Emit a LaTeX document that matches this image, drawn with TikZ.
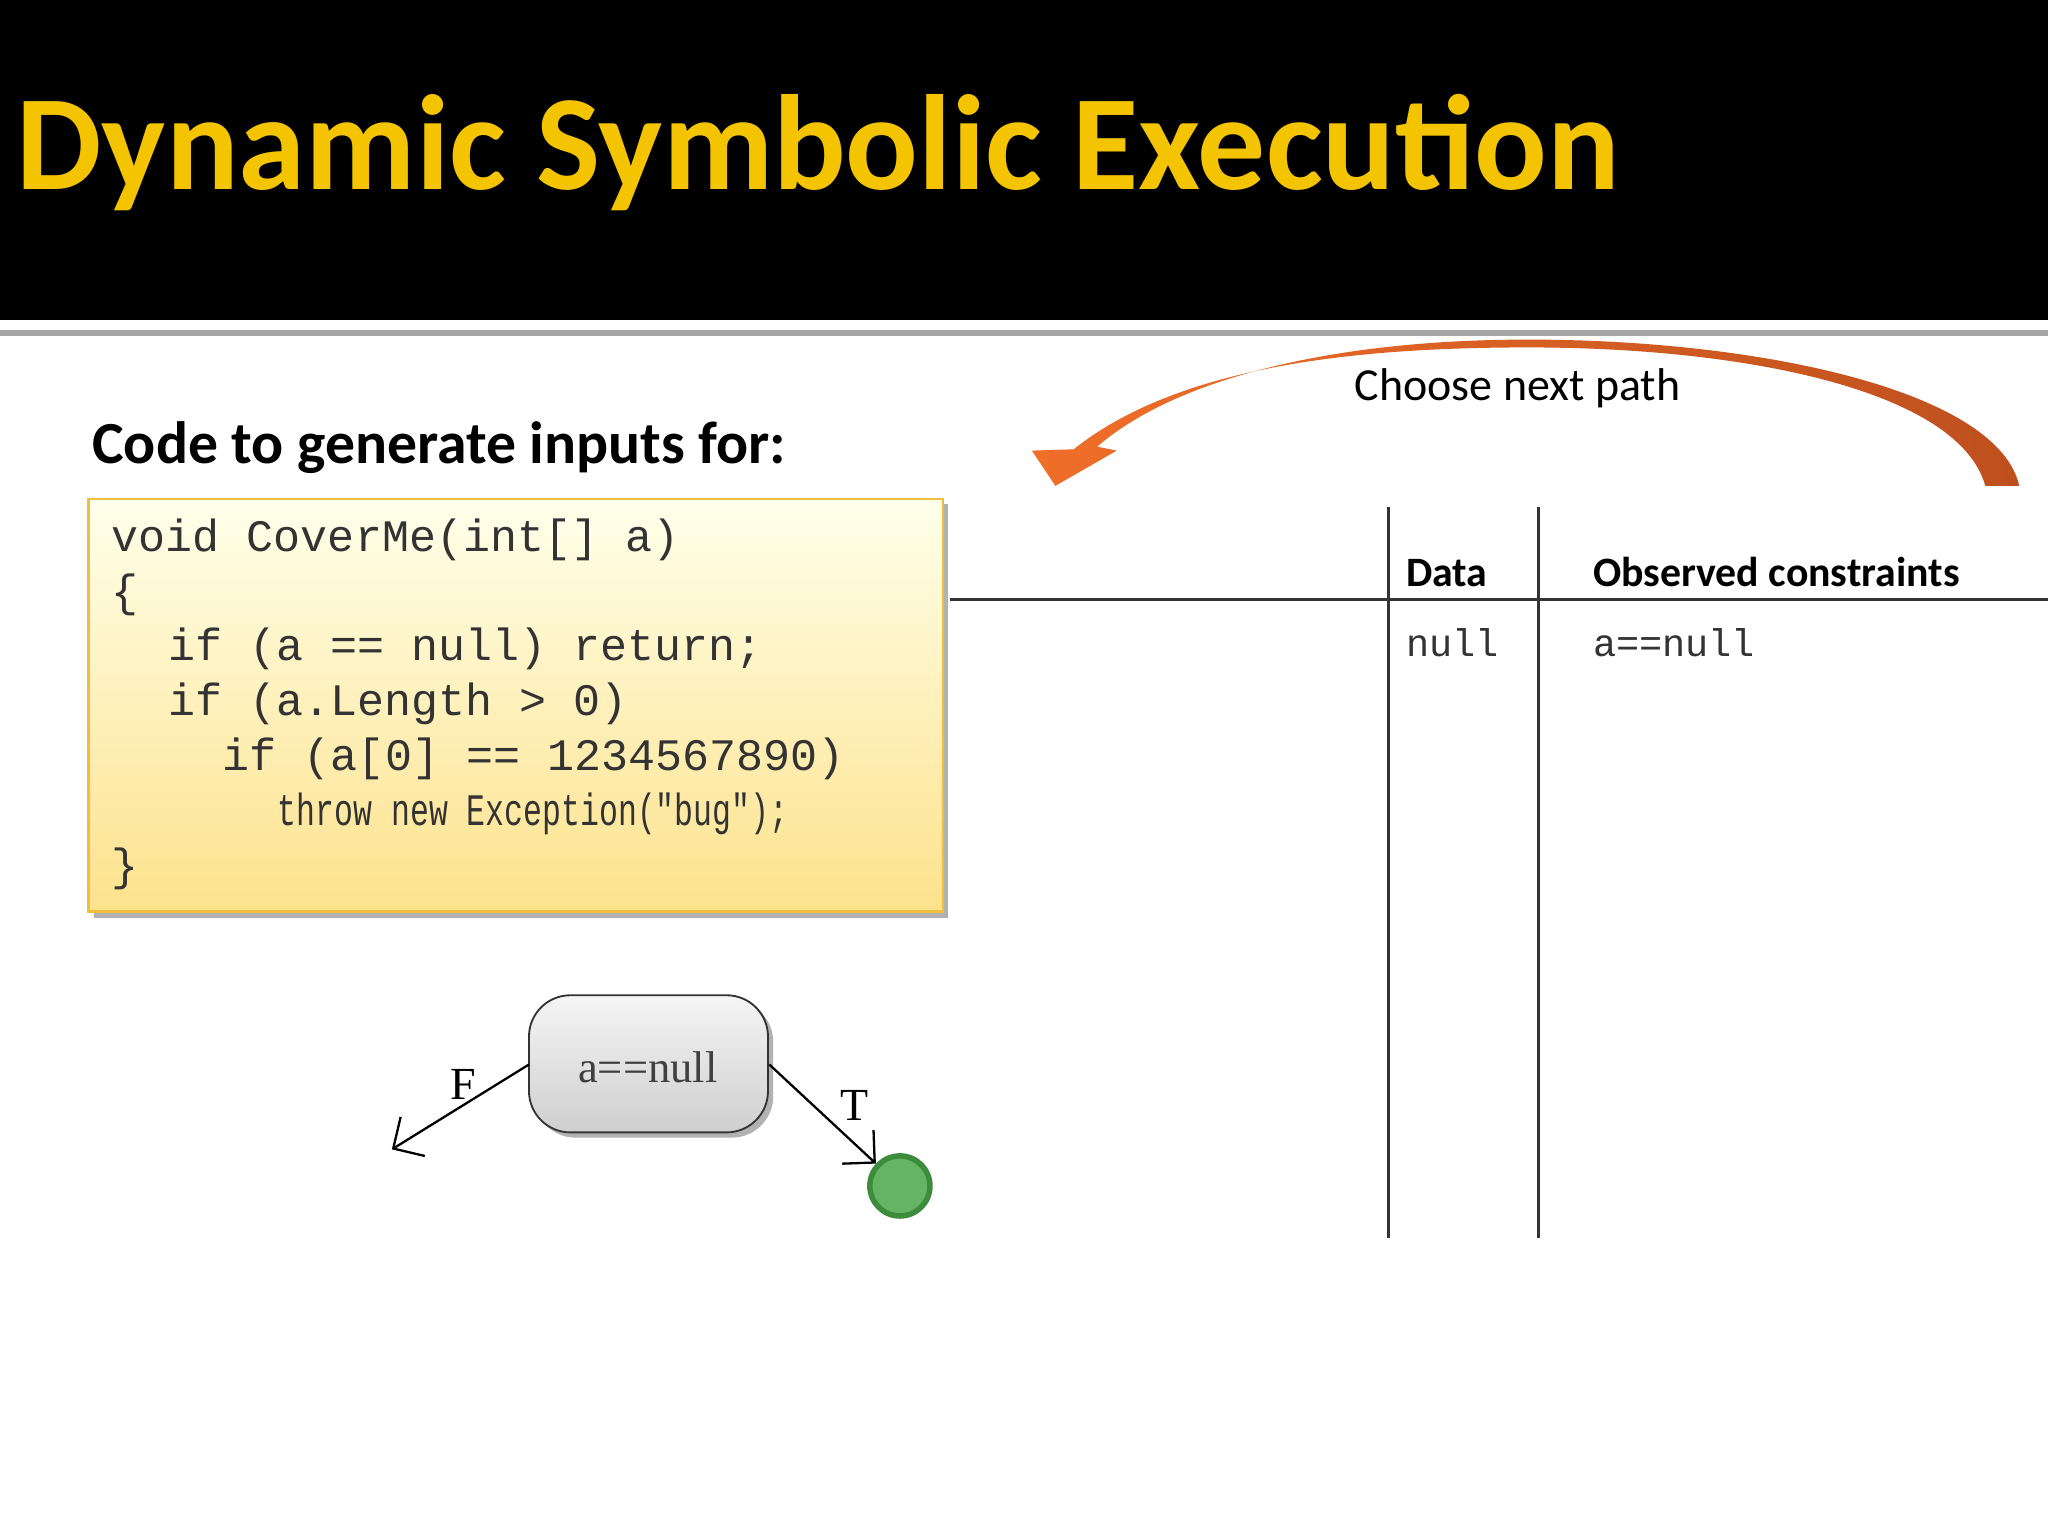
\documentclass[tikz,border=0pt]{standalone}
\usepackage{fontspec}
\setmainfont{Liberation Serif}
\newfontfamily\calib{Carlito}
\newfontfamily\cmono{Liberation Mono}
\usetikzlibrary{shadows,arrows.meta}
\definecolor{titley}{HTML}{F5C400}
\begin{document}
\begin{tikzpicture}[x=0.01cm,y=-0.01cm,
  code/.style={anchor=base west,inner sep=0,font=\cmono\fontsize{9.8}{12}\selectfont,text=black!80},
  hd/.style={anchor=base west,inner sep=0,font=\calib\bfseries\fontsize{9.1}{11}\selectfont},
  cell/.style={anchor=base west,inner sep=0,font=\cmono\fontsize{8.4}{10}\selectfont,text=black!80},
  lbl/.style={inner sep=0,font=\fontsize{10}{12}\selectfont}]
\useasboundingbox (0,0) rectangle (1568,1176);
\fill[white] (0,0) rectangle (1568,1176);
\fill[black] (0,0) rectangle (1568,245);
\draw[gray!70,line width=1.2pt] (0,255) -- (1568,255);
\node[anchor=base west,inner sep=0,font=\calib\bfseries\fontsize{29.5}{34}\selectfont,text=titley] (title) at (12,145) {Dynamic Symbolic Execution};
\node[anchor=base west,inner sep=0,font=\calib\bfseries\fontsize{13}{15}\selectfont] (head) at (70,355) {Code to generate inputs for:};
% code box
\fill[black!30] (72,386) rectangle (726,703);
\shade[top color=yellow!8,bottom color={rgb,255:red,253;green,226;blue,140}] (68,382) rectangle (722,698);
\draw[color={rgb,255:red,240;green,190;blue,60},line width=0.6pt] (68,382) rectangle (722,698);
\node[code] (c1) at (85,422) {void CoverMe(int[] a)};
\node[code] (c2) at (85,464) {\{};
\node[code] (c3) at (128,506) {if (a == null) return;};
\node[code] (c4) at (128,548) {if (a.Length > 0)};
\node[code] (c5) at (170,590) {if (a[0] == 1234567890)};
\node[code] (c6) at (212,632) {\scalebox{0.7}[1]{throw new Exception("bug");}};
\node[code] (c7) at (85,674) {\}};
% curved arrow
\shade[left color={rgb,255:red,240;green,110;blue,40},right color={rgb,255:red,190;green,80;blue,30}]
  (1546,372) .. controls (1530,300) and (1350,260) .. (1170,260)
  .. controls (1020,260) and (900,290) .. (840,342)
  -- (855,345) -- (808,372) -- (790,345) -- (822,344)
  .. controls (900,282) and (1030,266) .. (1170,266)
  .. controls (1340,266) and (1500,300) .. (1520,372) -- cycle;
\node[anchor=base,inner sep=0,font=\calib\fontsize{10}{12}\selectfont] (choose) at (1162,307) {Choose next path};
% table
\coordinate (v1t) at (1063,388); \coordinate (v1b) at (1063,948);
\coordinate (v2t) at (1178,388); \coordinate (v2b) at (1178,948);
\coordinate (hl) at (727,459); \coordinate (hr) at (1568,459);
\draw[black!80,line width=0.6pt] (v1t) -- (v1b) (v2t) -- (v2b) (hl) -- (hr);
\node[hd] (data) at (1076,449) {Data};
\node[hd] (obs) at (1219,449) {Observed constraints};
\node[cell] (d1) at (1076,503) {null};
\node[cell] (o1) at (1219,503) {a==null};
% tree
\fill[black!30,rounded corners=9pt] (409,766) rectangle (592,871);
\draw[black!80,rounded corners=9pt,top color=gray!8,bottom color=gray!38] (405,762) rectangle (588,867);
\node[inner sep=0,font=\fontsize{9.7}{12}\selectfont,text=black!75] (nt) at (496,817) {a==null};
\coordinate (nl) at (405,815); \coordinate (nr) at (589,815);
\coordinate (fend) at (300,880);
\node[circle,draw={rgb,255:red,60;green,140;blue,60},line width=1.2pt,fill={rgb,255:red,100;green,180;blue,100},minimum size=0.46cm,inner sep=0] (g) at (689,908) {};
\draw[black,line width=0.5pt,-{Straight Barb[length=5pt]}] (nl) -- (fend);
\draw[black,line width=0.5pt,-{Straight Barb[length=5pt]}] (nr) -- (g);
\node[lbl] (F) at (355,830) {F};
\node[lbl] (T) at (654,846) {T};
\end{tikzpicture}
\end{document}
